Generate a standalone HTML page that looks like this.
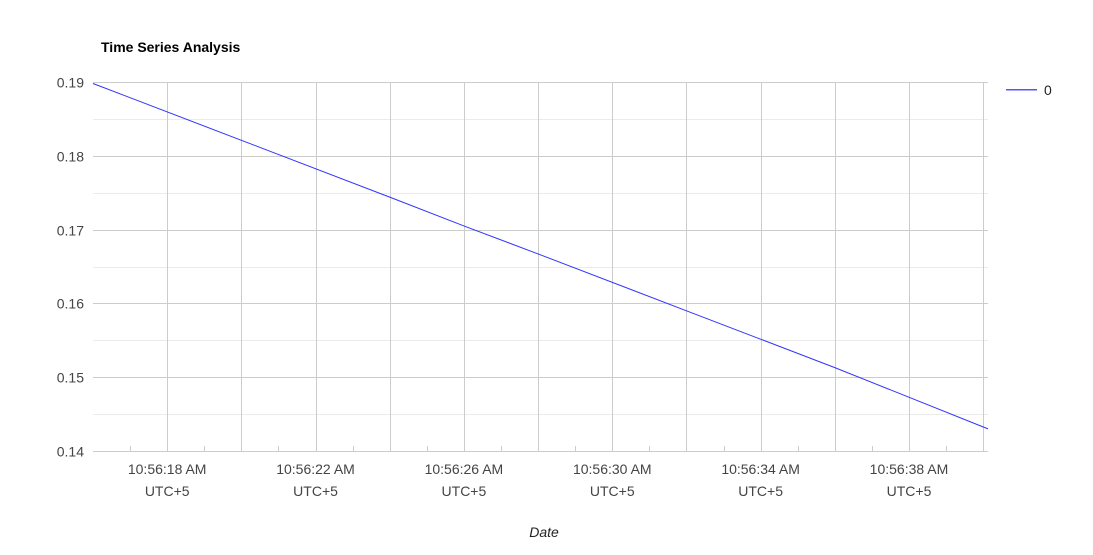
<!DOCTYPE html>
<html><head><meta charset="utf-8"><style>
body{margin:0;background:#fff;font-family:"Liberation Sans",Arial,sans-serif}
svg{display:block}
</style></head><body>
<svg id="c" width="1093" height="555">
<rect width="1093" height="555" fill="#fff"/>
<text x="101" y="52" font-size="14" font-weight="bold" fill="#000">Time Series Analysis</text>
<g id="grid"></g><g id="axes"></g><g id="series"></g>
<g>
<rect x="1006" y="89" width="31" height="1.5" fill="#5555ff"/>
<text x="1044" y="95" font-size="14" fill="#222">0</text>
</g>
<text x="544" y="537" font-size="14" font-style="italic" fill="#222" text-anchor="middle">Date</text>
</svg>
<script>
const times=[16,20,24,26,28,32,36,40.13];
const values=[0.1898,0.1821,0.1744,0.1705,0.1667,0.1590,0.1513,0.1430];
const yTicks=[0.14,0.15,0.16,0.17,0.18,0.19];
const yTickLabels=["0.14","0.15","0.16","0.17","0.18","0.19"];
const xTicks=[18,22,26,30,34,38];
const xTickLabels=["10:56:18 AM","10:56:22 AM","10:56:26 AM","10:56:30 AM","10:56:34 AM","10:56:38 AM"];
const NS="http://www.w3.org/2000/svg";
const L=93,R=988,T=82,B=451,x0=16,x1=40.13,y0=0.14,y1=0.19;
const xs=t=>L+(t-x0)/(x1-x0)*(R-L);
const ys=v=>B-(v-y0)/(y1-y0)*(B-T);
function mk(tag,attrs,parent){const e=document.createElementNS(NS,tag);for(const k in attrs)e.setAttribute(k,attrs[k]);parent.appendChild(e);return e;}
const grid=document.getElementById('grid'),axes=document.getElementById('axes'),ser=document.getElementById('series');
for(let i=0;i<yTicks.length-1;i++){const v=(yTicks[i]+yTicks[i+1])/2;const y=Math.round(ys(v))+0.5;
const l=mk('line',{x1:L,x2:R,y1:y,y2:y,stroke:'#ebebeb'},grid);

}
yTicks.forEach((v,i)=>{const y=Math.round(ys(v))+0.5;
const l=mk('line',{x1:L,x2:R,y1:y,y2:y,stroke:'#cccccc'},grid);


const t=mk('text',{x:84,y:y+5,'font-size':14,fill:'#444','text-anchor':'end'},axes);t.textContent=yTickLabels[i];

});
for(let s=18;s<=40;s+=2){const x=Math.round(xs(s))+0.5;
const l=mk('line',{x1:x,x2:x,y1:T,y2:B,stroke:'#cccccc'},grid);

}
for(let s=17;s<=39;s+=2){const x=Math.round(xs(s))+0.5;
const l=mk('line',{x1:x,x2:x,y1:B-5,y2:B,stroke:'#cccccc'},grid);

}
xTicks.forEach((s,i)=>{const x=xs(s);
const t=mk('text',{x:x,y:474,'font-size':14,fill:'#444','text-anchor':'middle'},axes);t.textContent=xTickLabels[i];


const u=mk('text',{x:x,y:496,'font-size':14,fill:'#444','text-anchor':'middle'},axes);u.textContent="UTC+5";

});
const p=mk('polyline',{points:times.map((t,i)=>xs(t)+','+ys(values[i])).join(' '),fill:'none',stroke:'#3333ff','stroke-width':1},ser);


</script>
</body></html>
